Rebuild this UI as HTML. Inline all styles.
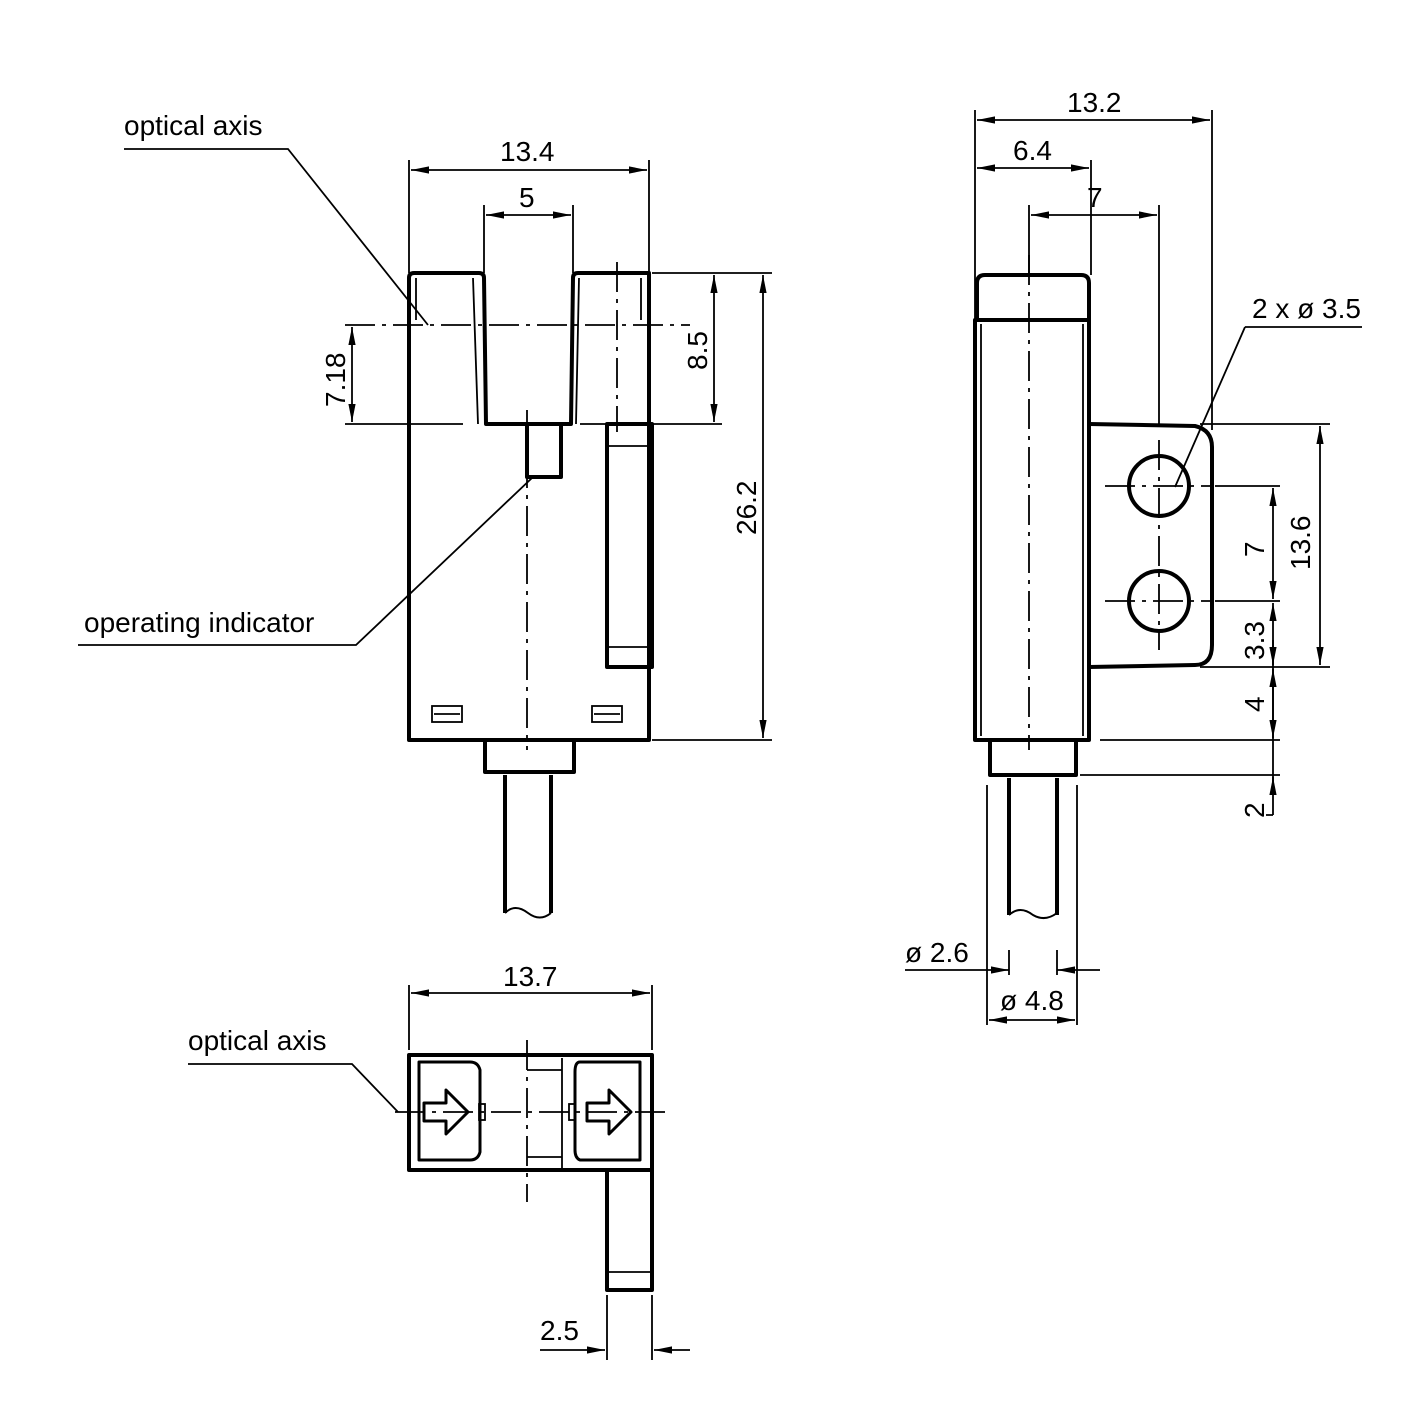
<!DOCTYPE html>
<html><head><meta charset="utf-8"><style>body{margin:0;background:#fff}svg{display:block}text{font-family:"Liberation Sans",sans-serif;font-size:28px;fill:#000}</style></head><body>
<svg width="1418" height="1418" viewBox="0 0 1418 1418" xmlns="http://www.w3.org/2000/svg">
<defs><marker id="a" viewBox="0 0 10 10" refX="10" refY="5" markerWidth="18" markerHeight="18" markerUnits="userSpaceOnUse" orient="auto-start-reverse"><path d="M0,3 L10,5 L0,7 z" fill="#000"/></marker></defs>
<g fill="none" stroke="#000">
<g stroke-width="4" stroke-linejoin="round">
<path d="M409,740 L409,278 Q409,273 414,273 L479,273 Q484,273 484,278 L486,424 L571,424 L573,278 Q573,273 578,273 L649,273 L649,740 Z"/>
<rect x="527" y="424" width="34" height="53"/>
<rect x="607" y="424" width="45" height="243"/>
<path d="M485,740 L485,772 L574,772 L574,740"/>
<path d="M505,775 L505,913 M551,775 L551,913"/>
</g>
<path d="M505,913 Q515,903 528,913 Q540,922 551,913" stroke-width="2"/>
<g stroke-width="1.8">
<path d="M416,278 L416,320 M473,278 L478,424 M579,278 L576,424 M641,278 L641,320"/>
<path d="M609,446 L650,446 M609,647 L650,647"/>
<rect x="432" y="706" width="30" height="16"/><path d="M434,714 L460,714"/>
<rect x="592" y="706" width="30" height="16"/><path d="M594,714 L620,714"/>
</g>
<g stroke-width="1.8" stroke-dasharray="30,7,4,7">
<path d="M527,410 L527,750"/><path d="M345,325 L690,325"/><path d="M617,262 L617,432"/>
</g>
<g stroke-width="1.8">
<path d="M409,160 L409,273 M649,160 L649,273"/>
<path d="M411,170 L647,170" marker-start="url(#a)" marker-end="url(#a)"/>
<path d="M484,205 L484,273 M573,205 L573,273"/>
<path d="M486,215 L571,215" marker-start="url(#a)" marker-end="url(#a)"/>
<path d="M652,273 L772,273 M580,424 L722,424 M652,740 L772,740 M345,424 L463,424"/>
<path d="M714,275 L714,422" marker-start="url(#a)" marker-end="url(#a)"/>
<path d="M763,275 L763,738" marker-start="url(#a)" marker-end="url(#a)"/>
<path d="M352,327 L352,422" marker-start="url(#a)" marker-end="url(#a)"/>
<path d="M124,149 L288,149 L428,325"/>
<path d="M78,645 L356,645 L533,477"/>
</g>
<g stroke-width="4" stroke-linejoin="round">
<path d="M977,320 L977,283 Q977,275 985,275 L1081,275 Q1089,275 1089,283 L1089,320"/>
<rect x="975" y="320" width="114" height="420"/>
<path d="M1089,424 L1195,426 Q1212,430 1212,447 L1212,645 Q1212,665 1195,665 L1089,667"/>
<circle cx="1159" cy="486" r="30"/><circle cx="1159" cy="601" r="30"/>
<path d="M990,740 L990,775 L1076,775 L1076,740"/>
<path d="M1009,778 L1009,915 M1057,778 L1057,915"/>
</g>
<path d="M1009,915 Q1020,905 1033,915 Q1045,922 1057,913" stroke-width="2"/>
<g stroke-width="1.8">
<path d="M981,324 L981,736 M1083,324 L1083,736"/>
<path d="M987,785 L987,1025 M1077,785 L1077,1025"/>
</g>
<g stroke-width="1.8" stroke-dasharray="30,7,4,7">
<path d="M1029,255 L1029,750"/><path d="M1159,440 L1159,650"/>
<path d="M1105,486 L1212,486"/><path d="M1105,601 L1212,601"/>
</g>
<g stroke-width="1.8">
<path d="M975,110 L975,320 M1212,110 L1212,430 M1091,160 L1091,275 M1029,205 L1029,275 M1159,205 L1159,424"/>
<path d="M977,120 L1210,120" marker-start="url(#a)" marker-end="url(#a)"/>
<path d="M977,168 L1089,168" marker-end="url(#a)" marker-start="url(#a)"/>
<path d="M1031,215 L1157,215" marker-start="url(#a)" marker-end="url(#a)"/>
<path d="M1200,424 L1330,424 M1215,486 L1280,486 M1215,601 L1280,601 M1200,667 L1330,667 M1100,740 L1280,740 M1080,775 L1280,775"/>
<path d="M1320,426 L1320,665" marker-start="url(#a)" marker-end="url(#a)"/>
<path d="M1273,488 L1273,599" marker-start="url(#a)" marker-end="url(#a)"/>
<path d="M1273,603 L1273,665" marker-start="url(#a)" marker-end="url(#a)"/>
<path d="M1273,669 L1273,738" marker-start="url(#a)" marker-end="url(#a)"/>
<path d="M1273,640 L1273,815 M1266,815 L1273,815"/>
<path d="M1273,795 L1273,777" marker-end="url(#a)"/>
<path d="M1245,327 L1362,327 M1245,327 L1175,487"/>
<path d="M905,970 L1009,970" marker-end="url(#a)"/><path d="M1100,970 L1057,970" marker-end="url(#a)"/>
<path d="M1009,950 L1009,975 M1057,950 L1057,975"/>
<path d="M989,1020 L1075,1020" marker-start="url(#a)" marker-end="url(#a)"/>
</g>
<g stroke-width="4" stroke-linejoin="round">
<rect x="409" y="1055" width="243" height="115"/>
<path d="M419,1062 L470,1062 Q478,1062 480,1070 L480,1152 Q478,1160 470,1160 L419,1160 Z" stroke-width="3"/>
<path d="M580,1062 L640,1062 L640,1160 L580,1160 Q575,1158 575,1150 L575,1072 Q575,1062 580,1062 Z" stroke-width="3"/>
<path d="M424,1103 L446,1103 L446,1090 L468,1112 L446,1134 L446,1121 L424,1121 Z" stroke-width="3"/>
<path d="M587,1103 L609,1103 L609,1090 L631,1112 L609,1134 L609,1121 L587,1121 Z" stroke-width="3"/>
<path d="M607,1170 L607,1290 L652,1290 L652,1170"/>
</g>
<g stroke-width="1.8">
<path d="M527,1070 L562,1070 M527,1157 L562,1157 M562,1058 L562,1168 M608,1272 L651,1272"/>
<rect x="479" y="1104" width="6" height="16"/><rect x="569" y="1104" width="6" height="16"/>
</g>
<g stroke-width="1.8" stroke-dasharray="30,7,4,7">
<path d="M527,1040 L527,1202"/><path d="M395,1112 L665,1112"/>
</g>
<g stroke-width="1.8">
<path d="M409,985 L409,1050 M652,985 L652,1050"/>
<path d="M411,993 L650,993" marker-start="url(#a)" marker-end="url(#a)"/>
<path d="M607,1295 L607,1360 M652,1295 L652,1360"/>
<path d="M540,1350 L605,1350" marker-end="url(#a)"/><path d="M690,1350 L654,1350" marker-end="url(#a)"/>
<path d="M188,1064 L352,1064 L398,1112"/>
</g>
</g>
<text x="124" y="135">optical axis</text>
<text x="84" y="632">operating indicator</text>
<text x="500" y="161">13.4</text>
<text x="519" y="207">5</text>
<text x="1067" y="112">13.2</text>
<text x="1013" y="160">6.4</text>
<text x="1087" y="207">7</text>
<text x="1252" y="318">2 x ø 3.5</text>
<text x="905" y="962">ø 2.6</text>
<text x="1000" y="1010">ø 4.8</text>
<text x="503" y="986">13.7</text>
<text x="188" y="1050">optical axis</text>
<text x="540" y="1340">2.5</text>
<text transform="translate(345,407) rotate(-90)">7.18</text>
<text transform="translate(707,370) rotate(-90)">8.5</text>
<text transform="translate(756,535) rotate(-90)">26.2</text>
<text transform="translate(1310,570) rotate(-90)">13.6</text>
<text transform="translate(1264,557) rotate(-90)">7</text>
<text transform="translate(1264,660) rotate(-90)">3.3</text>
<text transform="translate(1264,712) rotate(-90)">4</text>
<text transform="translate(1264,818) rotate(-90)">2</text>
</svg>
</body></html>
